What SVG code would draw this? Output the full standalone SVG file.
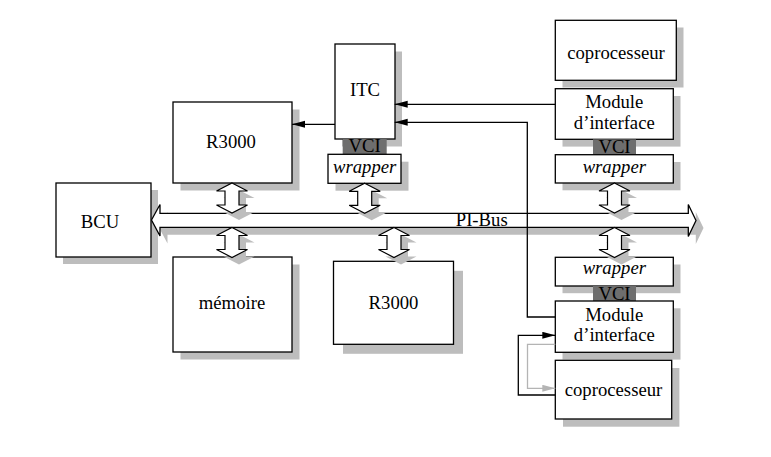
<svg xmlns="http://www.w3.org/2000/svg" width="771" height="457" viewBox="0 0 771 457">
<style>
.bx{fill:#fff;stroke:#000;stroke-width:1.3}
.sh{fill:#bdbdbd;stroke:none}
.vci{fill:#6e6e6e;stroke:none}
.t{font-family:"Liberation Serif","Times New Roman",serif;font-size:18.7px;text-anchor:middle;fill:#000}
.i{font-style:italic}
.ln{fill:none;stroke:#000;stroke-width:1.3}
.lg{fill:none;stroke:#b4b4b4;stroke-width:1.3}
.da{fill:#fff;stroke:#000;stroke-width:1.2;stroke-linejoin:miter}
</style>
<defs>
<marker id="ah" markerUnits="userSpaceOnUse" markerWidth="14" markerHeight="8" refX="13" refY="3.5" orient="auto"><path d="M0,0 L13,3.5 L0,7 z" fill="#000"/></marker>
<marker id="ahg" markerUnits="userSpaceOnUse" markerWidth="14" markerHeight="8" refX="13" refY="3.5" orient="auto"><path d="M0,0 L13,3.5 L0,7 z" fill="#b4b4b4"/></marker>
<polygon id="dbl" points="0,0 15.5,8 7,8 7,22 15.5,22 0,30 -15.5,22 -7,22 -7,8 -15.5,8"/>
</defs>
<rect width="771" height="457" fill="#fff"/>

<g id="bcu">
<rect class="sh" x="63" y="190" width="95" height="74"/>
<rect class="bx" x="56" y="183" width="95" height="74"/>
<text class="t" x="100" y="227.5">BCU</text>
</g>

<g id="r3000-haut">
<rect class="sh" x="180.5" y="109.5" width="119" height="81"/>
<rect class="bx" x="173" y="102" width="119" height="81"/>
<text class="t" x="231" y="147.5">R3000</text>
</g>

<g id="itc">
<rect class="sh" x="342" y="51.5" width="60" height="95"/>
<rect class="bx" x="335" y="44" width="60" height="95"/>
<text class="t" x="365" y="96">ITC</text>
</g>
<g id="itc-vci">
<rect class="vci" x="342.7" y="139" width="44" height="15.3"/>
<text class="t" x="364.7" y="152">VCI</text>
</g>
<g id="itc-wrapper">
<rect class="sh" x="335.5" y="161.7" width="73" height="29"/>
<rect class="bx" x="328" y="154.3" width="73" height="29"/>
<text class="t i" x="364.7" y="172.7">wrapper</text>
</g>

<g id="memoire">
<rect class="sh" x="180.5" y="264.5" width="119" height="95"/>
<rect class="bx" x="173" y="257" width="119" height="95"/>
<text class="t" x="232" y="308.5">mémoire</text>
</g>

<g id="r3000-bas">
<rect class="sh" x="343" y="270.8" width="120" height="83"/>
<rect class="bx" x="333.5" y="261.3" width="120" height="83"/>
<text class="t" x="393.5" y="308.5">R3000</text>
</g>

<g id="coprocesseur-haut">
<rect class="sh" x="562.5" y="27.5" width="121" height="60"/>
<rect class="bx" x="555.3" y="20.3" width="121" height="60"/>
<text class="t" x="616" y="58.5">coprocesseur</text>
</g>

<g id="module-haut">
<rect class="sh" x="562.5" y="96" width="118" height="50.6"/>
<rect class="bx" x="555.3" y="88.7" width="118" height="50.6"/>
<text class="t" x="614.3" y="108.3">Module</text>
<text class="t" x="614.3" y="128.5">d’interface</text>
</g>
<g id="vci-haut">
<rect class="vci" x="593" y="139.3" width="43" height="15.4"/>
<text class="t" x="614.5" y="152.7">VCI</text>
</g>
<g id="wrapper-haut">
<rect class="sh" x="562.5" y="162" width="118" height="28.3"/>
<rect class="bx" x="555.3" y="154.7" width="118" height="28.3"/>
<text class="t i" x="614.3" y="173.3">wrapper</text>
</g>

<g id="wrapper-bas">
<rect class="sh" x="562.5" y="264.5" width="118" height="28.7"/>
<rect class="bx" x="555.3" y="257.3" width="118" height="28.7"/>
<text class="t i" x="614.3" y="274">wrapper</text>
</g>
<g id="vci-bas">
<rect class="vci" x="593" y="286" width="43" height="15"/>
<text class="t" x="614.5" y="299.5">VCI</text>
</g>
<g id="module-bas">
<rect class="sh" x="562.5" y="308.3" width="118" height="51.3"/>
<rect class="bx" x="555.3" y="301" width="118" height="51.3"/>
<text class="t" x="614.3" y="320.6">Module</text>
<text class="t" x="614.3" y="340.8">d’interface</text>
</g>

<g id="coprocesseur-bas">
<rect class="sh" x="563" y="368" width="116.4" height="58.7"/>
<rect class="bx" x="555.3" y="360.3" width="116.4" height="58.7"/>
<text class="t" x="613.5" y="396">coprocesseur</text>
</g>

<g id="pi-bus">
<polygon class="sh" points="159,227.5 167.5,212 167.5,220.8 695.8,220.8 695.8,212 703.5,228 695.8,244 695.8,234.8 167.5,234.8 167.5,243.5"/>
<polygon class="bx" points="151.5,220 160,204.5 160,213.3 688.3,213.3 688.3,204.5 696,220.5 688.3,236.5 688.3,227.3 160,227.3 160,236"/>
<text class="t" x="481.7" y="225.5">PI-Bus</text>
</g>

<g id="connecteurs">
<g fill="#bdbdbd">
<use href="#dbl" x="239" y="190"/>
<use href="#dbl" x="371.7" y="190.3"/>
<use href="#dbl" x="621.5" y="190"/>
<use href="#dbl" x="239" y="234.5"/>
<use href="#dbl" x="401" y="234.5"/>
<use href="#dbl" x="621.5" y="234.5"/>
</g>
<g class="da">
<use href="#dbl" x="232" y="183"/>
<use href="#dbl" x="364.7" y="183.3"/>
<use href="#dbl" x="614.5" y="183"/>
<use href="#dbl" x="232" y="227.5"/>
<use href="#dbl" x="394" y="227.5"/>
<use href="#dbl" x="614.5" y="227.5"/>
</g>
<path class="ln" d="M335,124.3 H292" marker-end="url(#ah)"/>
<path class="ln" d="M555.3,104.3 H394.7" marker-end="url(#ah)"/>
<path class="ln" d="M555.3,317 H527.3 V122.3 H394.7" marker-end="url(#ah)"/>
<path class="ln" d="M555.3,395 H518.3 V335.3 H555.3" marker-end="url(#ah)"/>
<path class="lg" d="M555.3,344.3 H527.5 V388.3 H555.3" marker-end="url(#ahg)"/>
</g>
</svg>
